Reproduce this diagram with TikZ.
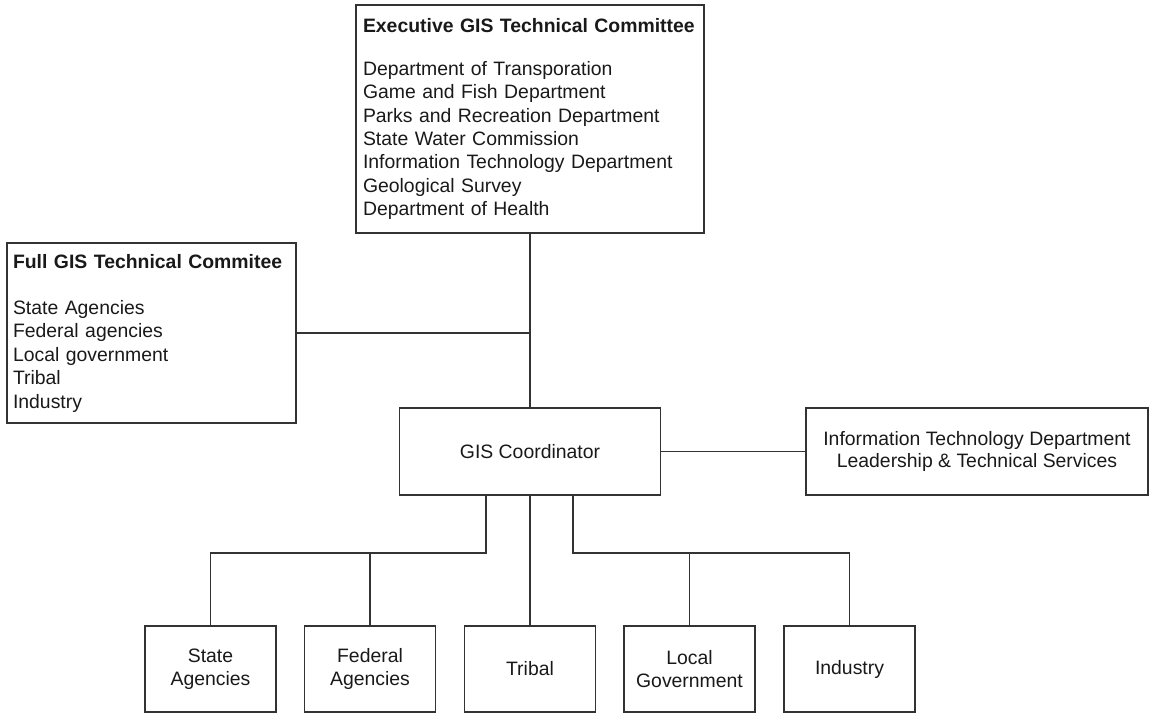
\documentclass[tikz,border=0pt]{standalone}
\usepackage{fontspec}
\setmainfont{Liberation Sans}
\begin{document}
\begin{tikzpicture}[x=1pt,y=-1pt,
		box/.style={draw=black!80,line width=1.3pt,text=black!90,inner sep=0pt,font=\fontsize{19.4}{23.4}\selectfont},
		link/.style={draw=black!80,line width=1.3pt}]
	\useasboundingbox (0,0) rectangle (1149,713);
	\node[box,minimum width=348pt,minimum height=228pt,inner xsep=7pt,text width=334pt,align=left] (exec) at (530,119) {\textbf{Executive GIS Technical Committee}\\[19.6pt]
		Department of Transporation\\
		Game and Fish Department\\
		Parks and Recreation Department\\
		State Water Commission\\
		Information Technology Department\\
		Geological Survey\\
		Department of Health};
	\node[box,minimum width=289pt,minimum height=180pt,inner xsep=6pt,text width=277pt,align=left] (full) at (151.5,333) {\textbf{Full GIS Technical Commitee}\\[23pt]
		State Agencies\\
		Federal agencies\\
		Local government\\
		Tribal\\
		Industry};
	\node[box,minimum width=261pt,minimum height=87pt] (coord) at (530,451.5) {GIS Coordinator};
	\node[box,minimum width=342pt,minimum height=87pt,align=center,font=\fontsize{19.4}{22}\selectfont] (itd) at (977,451.5) {Information Technology Department\\Leadership \& Technical Services};
	\node[box,minimum width=131pt,minimum height=86pt,align=center] (state) at (210.5,669) {State\\Agencies};
	\node[box,minimum width=131pt,minimum height=86pt,align=center] (federal) at (370,669) {Federal\\Agencies};
	\node[box,minimum width=131pt,minimum height=86pt,align=center] (tribal) at (530,669) {Tribal};
	\node[box,minimum width=131pt,minimum height=86pt,align=center] (local) at (689.5,669) {Local\\Government};
	\node[box,minimum width=131pt,minimum height=86pt,align=center] (industry) at (849.5,669) {Industry};
	\coordinate (lb) at (486,553);
	\coordinate (rb) at (573,553);
	\draw[link] (exec.south) -- (coord.north);
	\draw[link] (full.east) -- (full.east -| exec.south);
	\draw[link] (coord.east) -- (itd.west);
	\draw[link] (coord.south -| lb) -- (lb) -| (state.north);
	\draw[link] (federal.north) -- (federal.north |- lb);
	\draw[link] (coord.south) -- (tribal.north);
	\draw[link] (coord.south -| rb) -- (rb) -| (industry.north);
	\draw[link] (local.north) -- (local.north |- rb);
\end{tikzpicture}
\end{document}
